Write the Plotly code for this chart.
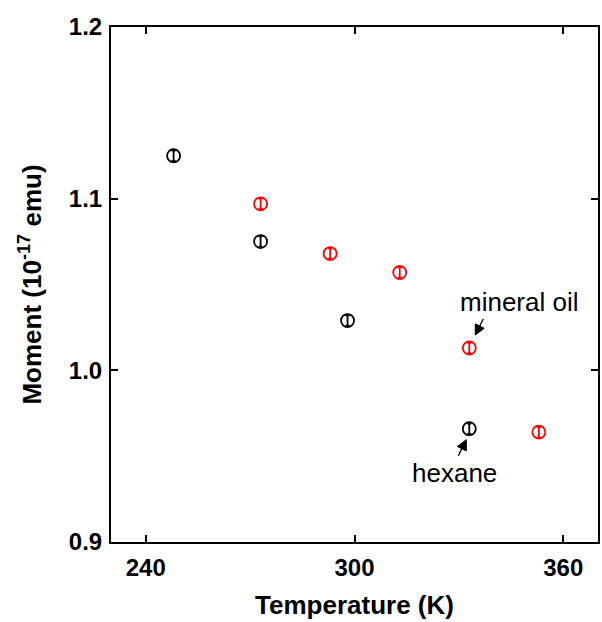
import plotly.graph_objects as go

# Measured moment vs temperature for the two solvents
hexane_T = [248, 273, 298, 333]
hexane_m = [1.125, 1.075, 1.029, 0.966]
hexane_err = [0.003, 0.003, 0.003, 0.003]

oil_T = [273, 293, 313, 333, 353]
oil_m = [1.097, 1.068, 1.057, 1.013, 0.964]
oil_err = [0.003, 0.003, 0.003, 0.003, 0.003]

x_ticks = [240, 300, 360]
y_ticks = [0.9, 1.0, 1.1, 1.2]

X_RANGE = [230, 370]
Y_RANGE = [0.9, 1.2]

W, H = 602, 622
M_L, M_R, M_T, M_B = 111, 2, 27, 80

font = "Liberation Sans, Arial, sans-serif"

fig = go.Figure()

def add_series(T, m, err, color):
    fig.add_trace(go.Scatter(
        x=T, y=m, mode="markers",
        marker=dict(symbol="circle-open", size=13, color=color, line=dict(width=1.8, color=color)),
        error_y=dict(type="data", array=err, visible=True, color=color, thickness=1.8, width=2),
        showlegend=False,
    ))

add_series(hexane_T, hexane_m, hexane_err, "black")
add_series(oil_T, oil_m, oil_err, "red")

axis_common = dict(
    showline=True, linecolor="black", linewidth=2, mirror="ticks",
    ticks="inside", ticklen=7, tickwidth=1.5, tickcolor="black",
    showgrid=False, zeroline=False,
    tickfont=dict(family=font, size=24, color="black", weight="bold"),
)

fig.update_xaxes(
    range=X_RANGE, tickvals=x_ticks, ticktext=[str(v) for v in x_ticks],
    ticklabelstandoff=3,
    title=dict(text="Temperature (K)", font=dict(family=font, size=26, color="black", weight="bold"), standoff=16),
    **axis_common,
)
fig.update_yaxes(
    range=Y_RANGE, tickvals=y_ticks, ticktext=[f"{v:.1f}" for v in y_ticks],
    ticklabelstandoff=2,
    title=dict(text="Moment (10<sup>-17</sup> emu)", font=dict(family=font, size=26, color="black", weight="bold"), standoff=20),
    **axis_common,
)

# pixel-to-data helpers for the plot area, used to size the pointer arrows
pw = W - M_L - M_R
ph = H - M_T - M_B
dx = (X_RANGE[1] - X_RANGE[0]) / pw
dy = (Y_RANGE[1] - Y_RANGE[0]) / ph


def pointer(x0, y0, off_tail, off_tip, head_len=10, head_w=10):
    """Short arrow near a data point; offsets are in screen pixels (right, down)."""
    tx, ty = off_tail
    hx, hy = off_tip
    vx, vy = hx - tx, hy - ty
    n = (vx * vx + vy * vy) ** 0.5
    ux, uy = vx / n, vy / n
    bx, by = hx - ux * head_len, hy - uy * head_len
    px_, py_ = -uy * head_w / 2, ux * head_w / 2

    def d(px, py):
        return x0 + px * dx, y0 - py * dy

    a = d(tx, ty)
    b = d(bx, by)
    fig.add_shape(type="line", xref="x", yref="y", x0=a[0], y0=a[1], x1=b[0], y1=b[1],
                  line=dict(color="black", width=1.3))
    p1 = d(hx, hy)
    p2 = d(bx + px_, by + py_)
    p3 = d(bx - px_, by - py_)
    fig.add_shape(type="path", xref="x", yref="y",
                  path=f"M{p1[0]},{p1[1]} L{p2[0]},{p2[1]} L{p3[0]},{p3[1]} Z",
                  fillcolor="black", line=dict(color="black", width=1))


# mineral oil label points at the 333 K oil reading
pointer(oil_T[3], oil_m[3], off_tail=(14, -29), off_tip=(6, -13))
fig.add_annotation(
    x=oil_T[3], y=oil_m[3], xref="x", yref="y", text="mineral oil", showarrow=False,
    xshift=50, yshift=46, font=dict(family=font, size=26, color="black"),
)

# hexane label points at the 333 K hexane reading
pointer(hexane_T[3], hexane_m[3], off_tail=(-11, 27), off_tip=(-3, 11))
fig.add_annotation(
    x=hexane_T[3], y=hexane_m[3], xref="x", yref="y", text="hexane", showarrow=False,
    xshift=-15, yshift=-44, font=dict(family=font, size=26, color="black"),
)

fig.update_layout(
    width=W, height=H,
    margin=dict(l=M_L, r=M_R, t=M_T, b=M_B),
    plot_bgcolor="white", paper_bgcolor="white",
)

fig.write_html("out.html")
